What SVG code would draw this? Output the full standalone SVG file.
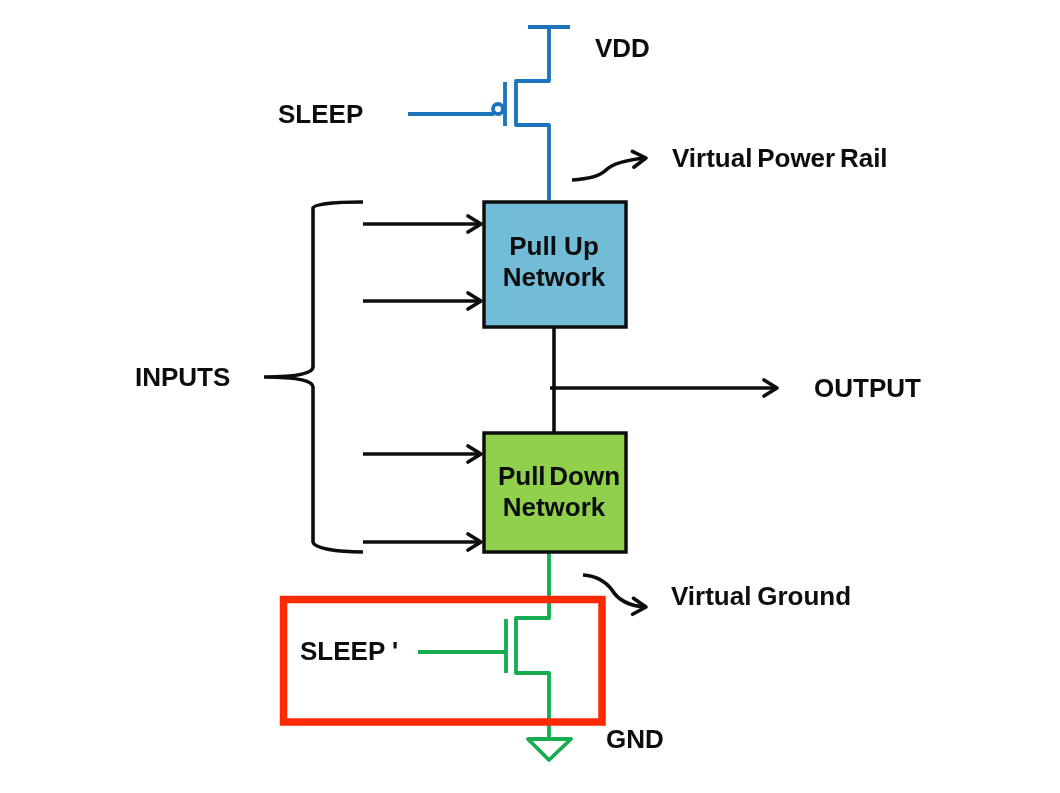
<svg xmlns="http://www.w3.org/2000/svg" width="1060" height="793" viewBox="0 0 1060 793">
<defs>
<marker id="arr" markerUnits="userSpaceOnUse" markerWidth="20" markerHeight="20" refX="15" refY="10" orient="auto" overflow="visible"><path d="M2 2 L15 10 L2 18" fill="none" stroke="#0a0a0a" stroke-width="3.6" stroke-linecap="round" stroke-linejoin="round"/></marker>
<filter id="soft" filterUnits="userSpaceOnUse" x="0" y="0" width="1060" height="793"><feGaussianBlur stdDeviation="0.6"/></filter>
</defs>
<style>
text{font-family:"Liberation Sans",Arial,sans-serif;font-weight:700;fill:#0c0c0c;font-size:26px}
.box{stroke:#111;stroke-width:3.5}
.k{fill:none;stroke:#0a0a0a;stroke-width:3.6}
.b{fill:none;stroke:#1a75bc;stroke-width:3.8;stroke-linejoin:round}
.g{fill:none;stroke:#12ac4f;stroke-width:3.8;stroke-linejoin:round}
</style>
<rect width="1060" height="793" fill="#fff"/>
<g filter="url(#soft)">
<g id="connectors">
<path class="b" d="M528 27H570M549 27V81H516V125H549V200M505 82V126M408 114H494"/>
<circle class="b" cx="498" cy="109" r="5"/>
<path class="g" d="M549 553V618H516V673H549V737M506 619V673M418 652H506"/>
<path class="g" d="M528 739H571L549 760Z"/>
<path class="k" d="M554 328V432"/>
<path class="k" marker-end="url(#arr)" d="M550 388H777"/>
<path class="k" marker-end="url(#arr)" d="M363 224H481"/>
<path class="k" marker-end="url(#arr)" d="M363 301H481"/>
<path class="k" marker-end="url(#arr)" d="M363 454H481"/>
<path class="k" marker-end="url(#arr)" d="M363 542H481"/>
<path class="k" d="M363 202C335 202 314 204 313 208V367C313 373 300 377 264 377C300 377 313 381 313 387V542C314 548 335 552 363 552"/>
<path class="k" marker-end="url(#arr)" d="M572 180C590 179 600 176 606 170C612 164 625 160 646 158"/>
<path class="k" marker-end="url(#arr)" d="M583 575C598 576 606 582 612 590C618 600 628 606 646 607"/>
</g>
<g id="sleep-box"><rect x="283.5" y="599.5" width="318.5" height="122.500" fill="none" stroke="#ff2a00" stroke-width="7.5"/></g>
<g id="pull-up"><rect class="box" x="484" y="202" width="142" height="125" fill="#72bcd8"/><text x="554" y="255" text-anchor="middle">Pull Up</text><text x="554" y="286" text-anchor="middle">Network</text></g>
<g id="pull-down"><rect class="box" x="484" y="433" width="142" height="119" fill="#90d04e"/><text x="559" y="485" text-anchor="middle" word-spacing="-3.500">Pull Down</text><text x="554" y="516" text-anchor="middle">Network</text></g>
<g id="labels">
<text x="595" y="57">VDD</text>
<text x="278" y="123">SLEEP</text>
<text x="672" y="167" word-spacing="-2.500">Virtual Power Rail</text>
<text x="135" y="386">INPUTS</text>
<text x="814" y="397">OUTPUT</text>
<text x="671" y="605" word-spacing="-1.500">Virtual Ground</text>
<text x="300" y="660">SLEEP '</text>
<text x="606" y="748">GND</text>
</g>
</g>
</svg>
